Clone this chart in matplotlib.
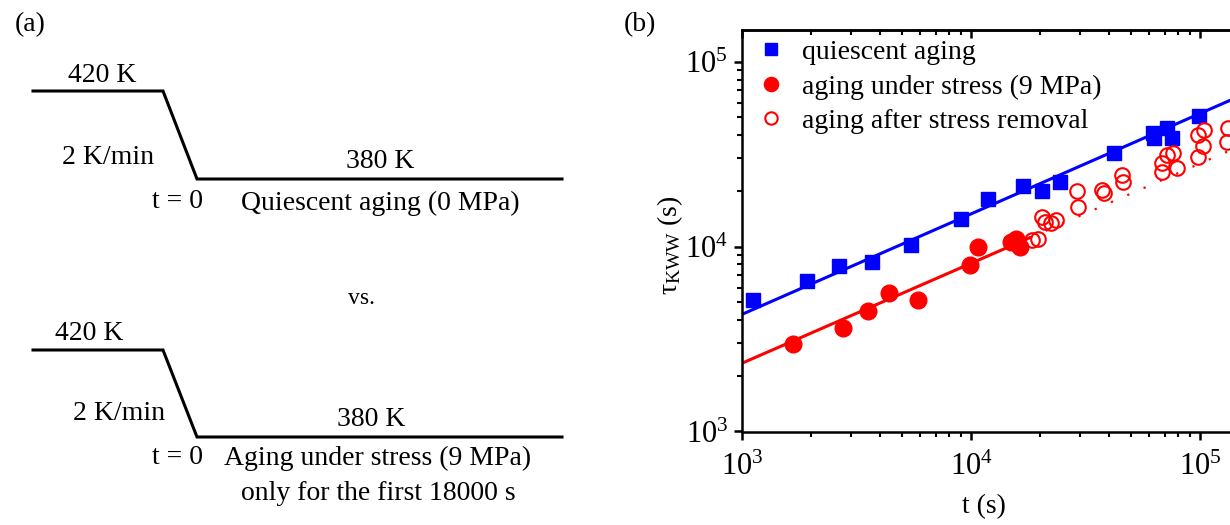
import matplotlib
matplotlib.use("Agg")
import matplotlib.pyplot as plt
from matplotlib.ticker import LogLocator, LogFormatterSciNotation, NullFormatter

plt.rcParams['font.family'] = ['Liberation Serif', 'DejaVu Serif']
plt.rcParams['mathtext.fontset'] = 'custom'
plt.rcParams['mathtext.rm'] = 'Liberation Serif'
plt.rcParams['mathtext.it'] = 'Liberation Serif:italic'
plt.rcParams['mathtext.default'] = 'regular'

# ---------------- data (panel b) ----------------
quiescent_t = [1113, 1920, 2660, 3680, 5470, 9040, 11920, 16900, 20360, 24480,
               42270, 62500, 62900, 71600, 75200, 99000]
quiescent_tau = [5140, 6530, 7850, 8280, 10190, 14080, 18070, 21330, 20050, 22240,
                 31900, 40900, 38500, 43600, 38700, 50900]

stress_t = [1675, 2770, 3540, 4400, 5890, 9900, 10690, 14960, 15750, 16380]
stress_tau = [2960, 3610, 4500, 5620, 5140, 7940, 9970, 10620, 10940, 9970]

removal_t = [18400, 19700, 20360, 21050, 22350, 23500, 28950, 29450, 37220, 38100,
             45500, 45950, 68100, 68100, 71600, 76500, 79100, 98400, 104000,
             103500, 98400, 133000, 131000]
removal_tau = [10840, 10990, 14490, 13510, 13350, 13900, 20050, 16420, 20180, 19400,
               24300, 22400, 28200, 25400, 31300, 31900, 26500, 40100, 42700,
               34900, 30600, 43500, 36900]

fit_q_t = [1e3, 2e5]
fit_q_tau = [4300, 76400]
fit_s_t = [1e3, 1.8e4]
fit_s_tau = [2340, 11150]
ext_s_t = [1.8e4, 2e5]
ext_s_tau = [11150, 40900]

legend_labels = ['quiescent aging', 'aging under stress (9 MPa)',
                 'aging after stress removal']

# ---------------- schematic (panel a), pixel layout ----------------
profile_x = [33, 163, 197, 562]
profile1_y = [91, 91, 179, 179]
profile2_y = [350, 350, 437, 437]

BLUE = '#0000ff'
RED = '#ff0000'

fig = plt.figure(figsize=(12.3, 5.25), dpi=100)

# overlay axes in pixel coordinates for the schematic
sa = fig.add_axes([0, 0, 1, 1])
sa.set_xlim(0, 1230)
sa.set_ylim(525, 0)
sa.axis('off')

sa.plot(profile_x, profile1_y, color='black', lw=2.2, solid_joinstyle='miter')
sa.plot(profile_x, profile2_y, color='black', lw=2.2, solid_joinstyle='miter')

fs = 20
sa.text(30, 25, '(a)', fontsize=fs, ha='center', va='center')
sa.text(640, 25, '(b)', fontsize=fs, ha='center', va='center')

sa.text(102, 75, '420 K', fontsize=fs, ha='center', va='center')
sa.text(108, 157, '2 K/min', fontsize=fs, ha='center', va='center')
sa.text(380, 162, '380 K', fontsize=fs, ha='center', va='center')
sa.text(178, 201, 't = 0', fontsize=fs, ha='center', va='center')
sa.text(380, 203, 'Quiescent aging (0 MPa)', fontsize=fs, ha='center', va='center')

sa.text(361, 298, 'vs.', fontsize=17, ha='center', va='center')

sa.text(89, 333, '420 K', fontsize=fs, ha='center', va='center')
sa.text(119, 413, '2 K/min', fontsize=fs, ha='center', va='center')
sa.text(371, 420, '380 K', fontsize=fs, ha='center', va='center')
sa.text(178, 458, 't = 0', fontsize=fs, ha='center', va='center')
sa.text(378, 458, 'Aging under stress (9 MPa)', fontsize=fs, ha='center', va='center')
sa.text(378, 494, 'only for the first 18000 s', fontsize=fs, ha='center', va='center')

# ---------------- panel b ----------------
ax = fig.add_axes([742 / 1230, (525 - 431.5) / 525, 527 / 1230, 401.5 / 525])
ax.set_xscale('log')
ax.set_yscale('log')
ax.set_xlim(1e3, 2e5)
ax.set_ylim(1e3, 10 ** 5.171)

ax.plot(fit_q_t, fit_q_tau, color=BLUE, lw=2.2)
ax.plot(fit_s_t, fit_s_tau, color=RED, lw=2.2)
ax.plot(ext_s_t, ext_s_tau, color=RED, lw=1.6, linestyle=(0, (1, 7)))

h1, = ax.plot(quiescent_t, quiescent_tau, 's', color=BLUE, ms=9.6, mec=BLUE,
              label=legend_labels[0])
h2, = ax.plot(stress_t, stress_tau, 'o', color=RED, ms=12, mec=RED,
              label=legend_labels[1])
h3, = ax.plot(removal_t, removal_tau, 'o', mfc='none', mec=RED, ms=10.5, mew=1.5,
              label=legend_labels[2])

leg = ax.legend(handles=[h1, h2, h3], loc='upper left', frameon=False,
                fontsize=fs, handlelength=0.8, handletextpad=0.75,
                labelspacing=0.33, borderaxespad=0.0, markerscale=0.85,
                bbox_to_anchor=(0.012, 1.004))

for side in ['left', 'bottom', 'top', 'right']:
    ax.spines[side].set_linewidth(1.8)

ax.xaxis.set_major_locator(LogLocator(base=10))
ax.yaxis.set_major_locator(LogLocator(base=10))
ax.xaxis.set_minor_locator(LogLocator(base=10, subs=range(2, 10)))
ax.yaxis.set_minor_locator(LogLocator(base=10, subs=range(2, 10)))
ax.xaxis.set_major_formatter(LogFormatterSciNotation())
ax.yaxis.set_major_formatter(LogFormatterSciNotation())
ax.xaxis.set_minor_formatter(NullFormatter())
ax.yaxis.set_minor_formatter(NullFormatter())

ax.tick_params(which='major', direction='out', length=6, width=1.8,
               labelsize=22)
ax.tick_params(which='minor', direction='out', length=3.5, width=1.5)
ax.tick_params(axis='x', which='major', pad=9)
ax.tick_params(axis='y', which='major', pad=4)

# inward ticks on the top spine
top = ax.secondary_xaxis('top')
top.xaxis.set_major_locator(LogLocator(base=10))
top.xaxis.set_minor_locator(LogLocator(base=10, subs=range(2, 10)))
top.xaxis.set_major_formatter(NullFormatter())
top.xaxis.set_minor_formatter(NullFormatter())
top.tick_params(which='major', direction='in', length=6, width=1.8)
top.tick_params(which='minor', direction='in', length=3.5, width=1.5)
top.spines['top'].set_linewidth(1.8)

ax.set_xlabel('t (s)', fontsize=fs)
ax.set_ylabel('τ$_{\\mathrm{KWW}}$ (s)', fontsize=fs)
ax.xaxis.set_label_coords(0.459, -0.155)
ax.yaxis.set_label_coords(-0.108, 0.464)

fig.savefig('out.png', dpi=100)
